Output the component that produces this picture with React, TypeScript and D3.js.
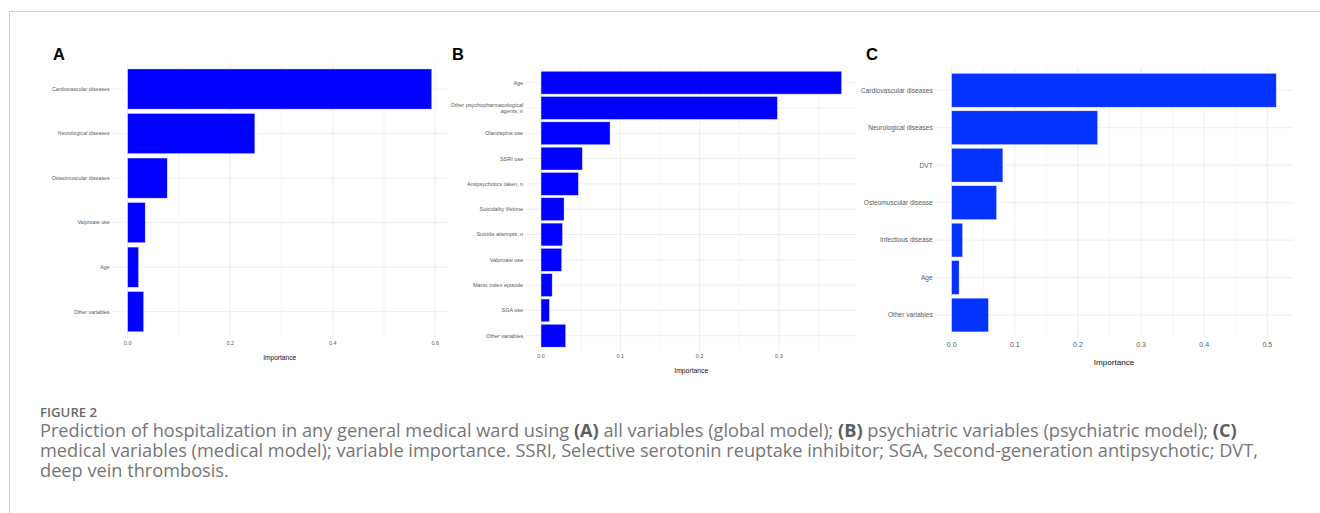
import React from "react";
import * as d3 from "d3";

// ---------- DATA ----------
const categoriesA = [
  "Cardiovascular diseases",
  "Neurological diseases",
  "Osteomuscular diseases",
  "Valproate use",
  "Age",
  "Other variables",
];
const valuesA = [0.593, 0.248, 0.077, 0.034, 0.021, 0.031];
const majorTicksA = [0, 0.2, 0.4, 0.6];
const minorTicksA = [0.1, 0.3, 0.5];

const categoriesB = [
  "Age",
  "Other psychopharmacological|agents, n",
  "Olanzapine use",
  "SSRI use",
  "Antipsychotics taken, n",
  "Suicidality lifetime",
  "Suicide attempts, n",
  "Valproate use",
  "Manic index episode",
  "SGA use",
  "Other variables",
];
const valuesB = [0.379, 0.298, 0.087, 0.052, 0.047, 0.029, 0.027, 0.026, 0.014, 0.0105, 0.031];
const majorTicksB = [0, 0.1, 0.2, 0.3];
const minorTicksB = [0.05, 0.15, 0.25, 0.35];

const categoriesC = [
  "Cardiovascular diseases",
  "Neurological diseases",
  "DVT",
  "Osteomuscular disease",
  "Infectious disease",
  "Age",
  "Other variables",
];
const valuesC = [0.514, 0.231, 0.081, 0.071, 0.017, 0.0116, 0.058];
const majorTicksC = [0, 0.1, 0.2, 0.3, 0.4, 0.5];
const minorTicksC = [0.05, 0.15, 0.25, 0.35, 0.45];

const axisTitle = "Importance";
const figureLabel = "FIGURE 2";
const captionLine1 = [
  { t: "Prediction of hospitalization in any general medical ward using ", b: false },
  { t: "(A)", b: true },
  { t: " all variables (global model); ", b: false },
  { t: "(B)", b: true },
  { t: " psychiatric variables (psychiatric model); ", b: false },
  { t: "(C)", b: true },
];
const captionLine2 =
  "medical variables (medical model); variable importance. SSRI, Selective serotonin reuptake inhibitor; SGA, Second-generation antipsychotic; DVT,";
const captionLine3 = "deep vein thrombosis.";

// ---------- LAYOUT ----------
type PanelCfg = {
  letter: string;
  cats: string[];
  vals: number[];
  major: number[];
  minor: number[];
  left: number;
  right: number;
  top: number;
  bottom: number;
  color: string;
  labelSize: number;
  tickSize: number;
  titleSize: number;
  tickY: number;
  titleY: number;
  letterX: number;
  font: string;
};

const panels: PanelCfg[] = [
  {
    letter: "A", cats: categoriesA, vals: valuesA, major: majorTicksA, minor: minorTicksA,
    left: 112.5, right: 446.9, top: 62.3, bottom: 338.4, color: "#0000ff",
    labelSize: 5.3, tickSize: 5.5, titleSize: 6.6, tickY: 345, titleY: 359.6, letterX: 53,
    font: "'Liberation Sans', Arial, sans-serif",
  },
  {
    letter: "B", cats: categoriesB, vals: valuesB, major: majorTicksB, minor: minorTicksB,
    left: 526, right: 856.6, top: 67.5, bottom: 350.9, color: "#0000ff",
    labelSize: 5.5, tickSize: 5.5, titleSize: 6.8, tickY: 357.7, titleY: 373, letterX: 452,
    font: "'Liberation Sans', Arial, sans-serif",
  },
  {
    letter: "C", cats: categoriesC, vals: valuesC, major: majorTicksC, minor: minorTicksC,
    left: 935.5, right: 1292.4, top: 67.8, bottom: 337.5, color: "#0433ff",
    labelSize: 6.6, tickSize: 7, titleSize: 8.1, tickY: 346.6, titleY: 364.8, letterX: 866,
    font: "'Liberation Sans', Arial, sans-serif",
  },
];

const fmt = d3.format(".1f");

function Panel({ p }: { p: PanelCfg }) {
  const max = d3.max(p.vals) as number;
  const x = d3.scaleLinear().domain([-max * 0.05, max * 1.05]).range([p.left, p.right]);
  const y = d3
    .scaleBand<string>()
    .domain(p.cats)
    .range([p.top, p.bottom])
    .paddingInner(0.1)
    .paddingOuter(0.15);
  const bw = y.bandwidth();
  const grid = "#ebebeb";
  return (
    <g fontFamily={p.font}>
      <text x={p.letterX} y={60} fontSize={16.5} fontWeight="bold" fill="#000"
        fontFamily="'Liberation Sans', Arial, sans-serif">
        {p.letter}
      </text>
      {p.minor.map((t) => (
        <line key={"mi" + t} x1={x(t)} x2={x(t)} y1={p.top} y2={p.bottom} stroke={grid} strokeWidth={0.5} />
      ))}
      {p.major.map((t) => (
        <line key={"ma" + t} x1={x(t)} x2={x(t)} y1={p.top} y2={p.bottom} stroke={grid} strokeWidth={0.9} />
      ))}
      {p.cats.map((c) => (
        <line key={"h" + c} x1={p.left} x2={p.right} y1={(y(c) as number) + bw / 2}
          y2={(y(c) as number) + bw / 2} stroke={grid} strokeWidth={0.9} />
      ))}
      {p.cats.map((c, i) => (
        <rect key={"r" + c} x={x(0)} y={y(c)} width={x(p.vals[i]) - x(0)} height={bw}
          fill={p.color} stroke="#d8d8ff" strokeWidth={0.4} />
      ))}
      {p.cats.map((c) => {
        const lines = c.split("|");
        const cy = (y(c) as number) + bw / 2;
        const lh = p.labelSize * 1.2;
        const y0 = cy - ((lines.length - 1) * lh) / 2;
        return (
          <text key={"l" + c} x={p.left - 2.8} textAnchor="end" fontSize={p.labelSize} fill="#5a5a5a">
            {lines.map((ln, k) => (
              <tspan key={k} x={p.left - 2.8} y={y0 + k * lh} dy="0.35em">{ln}</tspan>
            ))}
          </text>
        );
      })}
      {p.major.map((t) => (
        <text key={"t" + t} x={x(t)} y={p.tickY} textAnchor="middle" fontSize={p.tickSize} fill="#5a5a5a">
          {fmt(t)}
        </text>
      ))}
      <text x={(p.left + p.right) / 2} y={p.titleY} textAnchor="middle"
        fontSize={p.titleSize} fill="#111">
        {axisTitle}
      </text>
    </g>
  );
}

export default function App() {
  const capFont = "'Open Sans', Lato, sans-serif";
  const capColor = "#767676";
  const capSize = 18.2;
  return (
    <svg width={1320} height={513} style={{ position: "absolute", left: 0, top: 0, background: "#fff" }}>
      <rect x={0} y={0} width={1320} height={513} fill="#fff" />
      <line x1={9.5} x2={1320} y1={11.5} y2={11.5} stroke="#cfcfcf" strokeWidth={1} />
      <line x1={9.5} x2={9.5} y1={11.5} y2={513} stroke="#cfcfcf" strokeWidth={1} />
      {panels.map((p) => (
        <Panel key={p.letter} p={p} />
      ))}
      <text fontFamily={capFont} fontSize={capSize} fill={capColor}>
        <tspan x={40} y={416.7} fontSize={13.2} fontWeight={600} fill="#6a6a6a">{figureLabel}</tspan>
        <tspan x={40} y={436.7}>
          {captionLine1.map((s, i) => (
            <tspan key={i} fontWeight={s.b ? 700 : 400} fill={s.b ? "#5e5e5e" : capColor}>{s.t}</tspan>
          ))}
        </tspan>
        <tspan x={40} y={456.7}>{captionLine2}</tspan>
        <tspan x={40} y={476.7}>{captionLine3}</tspan>
      </text>
    </svg>
  );
}
